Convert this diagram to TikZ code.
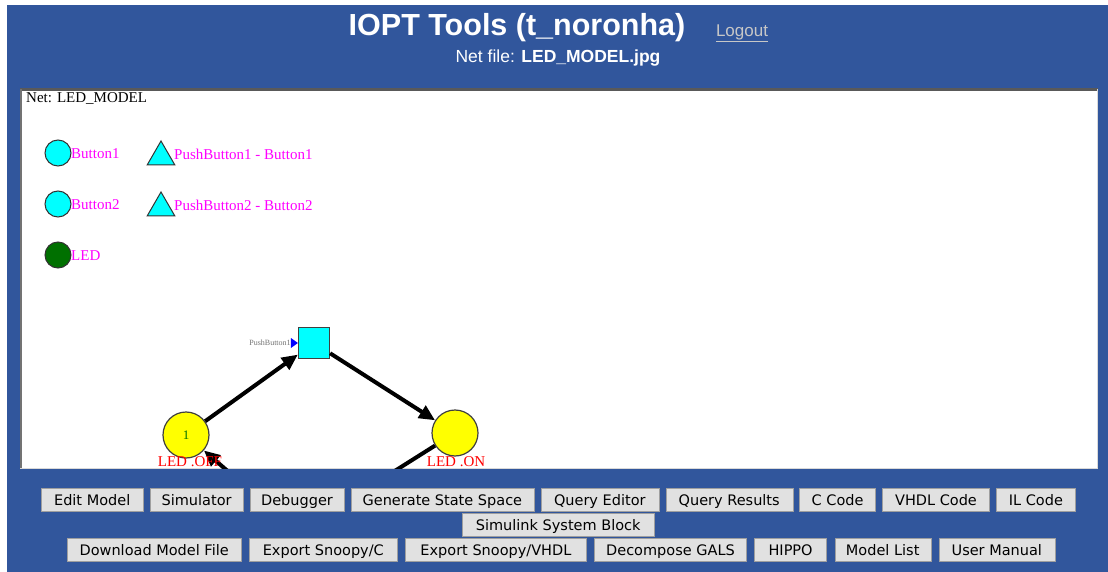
\documentclass[tikz,border=0pt]{standalone}
\usepackage{fontspec}
\setmainfont{Liberation Serif}
\newfontfamily\headfont{Liberation Sans}
\newfontfamily\btnfont{DejaVu Sans}
\usetikzlibrary{arrows.meta,positioning,shapes.geometric}
\definecolor{ioptblue}{HTML}{31569C}
\definecolor{btngray}{HTML}{E1E1E1}
\definecolor{legmag}{HTML}{FF00FF}
\definecolor{ledgreen}{HTML}{007000}
\definecolor{sigcyan}{HTML}{00FFFF}
\definecolor{tokyellow}{HTML}{FFFF00}
\definecolor{lblred}{HTML}{FF0000}

\tikzset{
  btn/.style={draw=gray!75, fill=btngray, font=\btnfont\fontsize{14.5}{16}\selectfont,
              minimum height=23pt, inner sep=0pt, text height=14.5pt, text depth=3pt, anchor=west},
  legplace/.style={circle, draw=black!80, line width=1pt, fill=sigcyan, minimum size=26pt, inner sep=0pt},
  legsig/.style={regular polygon, regular polygon sides=3, draw=black!80, line width=1pt,
                 fill=sigcyan, minimum size=32pt, inner sep=0pt},
  legtext/.style={anchor=west, text=legmag, font=\fontsize{15}{17}\selectfont, inner sep=0pt},
  place/.style={circle, draw=black!75, line width=1.2pt, fill=tokyellow, minimum size=46pt, inner sep=0pt},
  trans/.style={rectangle, draw=black!75, line width=1.2pt, fill=sigcyan, minimum size=31pt, inner sep=0pt},
  arc/.style={line width=4pt, -{Triangle[length=16pt,width=14pt]}},
  placelabel/.style={text=lblred, font=\fontsize{15}{17}\selectfont, inner sep=0pt}
}

\begin{document}
\begin{tikzpicture}[x=1pt,y=-1pt]
\useasboundingbox (0,0) rectangle (1108,572);
\fill[white] (0,0) rectangle (1108,572);
\fill[ioptblue] (7,5) rectangle (1108,572);

% header
\node[text=white, font=\headfont\bfseries\fontsize{30.5}{33}\selectfont] (title) at (517,28) {IOPT Tools (t\_noronha)};
\node[text=black!22, font=\headfont\fontsize{17}{19}\selectfont] (logout) at (742,33) {\underline{Logout}};
\node[text=white, font=\headfont\fontsize{17.5}{19}\selectfont] (netfile) at (558,58) {Net file: \textbf{LED\_MODEL.jpg}};

% net panel
\fill[white] (20,88) rectangle (1098,469);
\draw[black!65, line width=3pt] (20,89.5) -- (1098,89.5);
\draw[black!55, line width=2pt] (21,89) -- (21,469);
\draw[black!15, line width=1pt] (1097.5,89) -- (1097.5,468.5) -- (20,468.5);
\node[anchor=west, inner sep=0pt, font=\fontsize{15}{17}\selectfont] (netname) at (26,99) {Net: LED\_MODEL};

% legend
\node[legplace] (b1) at (58,153) {};
\node[legtext] (b1t) at (71,154) {Button1};
\node[legsig] (pb1) at (161,157) {};
\node[legtext] (pb1t) at (174,154) {PushButton1 - Button1};
\node[legplace] (b2) at (58,204) {};
\node[legtext] (b2t) at (71,205) {Button2};
\node[legsig] (pb2) at (161,208) {};
\node[legtext] (pb2t) at (174,205) {PushButton2 - Button2};
\node[legplace, fill=ledgreen] (led) at (58,255) {};
\node[legtext] (ledt) at (71,256) {LED};

% petri net
\begin{scope}
\clip (22,91) rectangle (1097,468);
\node[place, text=ledgreen, font=\fontsize{13}{15}\selectfont] (off) at (186,435) {1};
\node[place] (on) at (455,433) {};
\node[trans] (push) at (314,343) {};
\fill[blue] (push.west) -- ++(-7,-5) -- ++(0,10) -- cycle;
\node[anchor=east, inner sep=0pt, text=black!55, font=\fontsize{8}{9}\selectfont] (pushsig) at ([xshift=-7pt]push.west) {PushButton1};
\coordinate (offin) at (290,525);
\coordinate (onout) at (317,520);
\draw[arc] (off) -- (push);
\draw[arc] (push) -- (on);
\draw[arc] (offin) -- (off);
\draw[line width=4pt] (on) -- (onout);
\node[placelabel] (offl) at (190,462) {LED .OFF};
\node[placelabel] (onl) at (456,462) {LED .ON};
\end{scope}

% buttons
\node[btn, minimum width=102pt] (edit) at (41,500) {Edit Model};
\node[btn, minimum width=93pt, right=6.5pt of edit] (sim) {Simulator};
\node[btn, minimum width=94pt, right=6.5pt of sim] (debug) {Debugger};
\node[btn, minimum width=183pt, right=6.5pt of debug] (gss) {Generate State Space};
\node[btn, minimum width=118pt, right=6.5pt of gss] (qedit) {Query Editor};
\node[btn, minimum width=127pt, right=6.5pt of qedit] (qres) {Query Results};
\node[btn, minimum width=76pt, right=6.5pt of qres] (ccode) {C Code};
\node[btn, minimum width=107pt, right=6.5pt of ccode] (vhdl) {VHDL Code};
\node[btn, minimum width=79pt, right=6.5pt of vhdl] (il) {IL Code};
\node[btn, minimum width=192pt] (simulink) at (462,525) {Simulink System Block};
\node[btn, minimum width=174pt] (download) at (67,550) {Download Model File};
\node[btn, minimum width=148pt, right=7.7pt of download] (snoopc) {Export Snoopy/C};
\node[btn, minimum width=181pt, right=7.7pt of snoopc] (snoopv) {Export Snoopy/VHDL};
\node[btn, minimum width=152pt, right=7.7pt of snoopv] (gals) {Decompose GALS};
\node[btn, minimum width=72pt, right=7.7pt of gals] (hippo) {HIPPO};
\node[btn, minimum width=96pt, right=7.7pt of hippo] (mlist) {Model List};
\node[btn, minimum width=116pt, right=7.7pt of mlist] (manual) {User Manual};
\end{tikzpicture}
\end{document}
